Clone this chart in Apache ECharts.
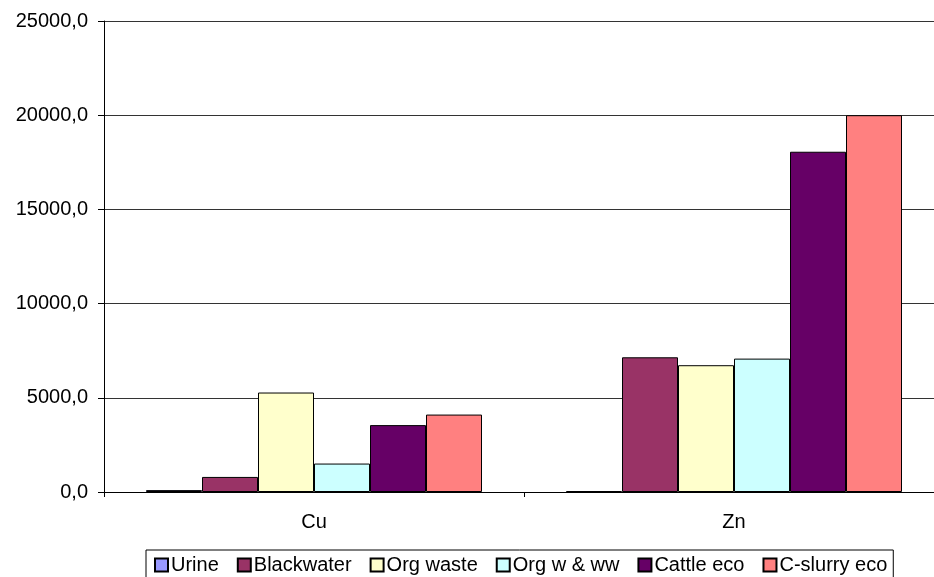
<!DOCTYPE html>
<html>
<head>
<meta charset="utf-8">
<script src="https://cdn.jsdelivr.net/npm/echarts@6/dist/echarts.min.js"></script>
<style>
  html, body { margin: 0; padding: 0; background: #fff; overflow: hidden; }
  /* the plot area runs a little past the right edge of the window */
  #chart { width: 944px; height: 577px; }
</style>
</head>
<body>
<div id="chart"></div>
<script>
// Metal content by source
const categories = ['Cu', 'Zn'];
const seriesNames = ['Urine', 'Blackwater', 'Org waste', 'Org w & ww', 'Cattle eco', 'C-slurry eco'];
const urine = [100, 50];
const blackwater = [800, 7150];
const orgWaste = [5280, 6730];
const orgWW = [1510, 7080];
const cattleEco = [3550, 18060];
const cSlurryEco = [4110, 20000];
const seriesColors = ['#9999FF', '#993366', '#FFFFCC', '#CCFFFF', '#660066', '#FF8080'];
const yTicks = { min: 0, max: 25000, interval: 5000 };

const values = [urine, blackwater, orgWaste, orgWW, cattleEco, cSlurryEco];
const font = 'Liberation Sans, Arial, sans-serif';

const chart = echarts.init(document.getElementById('chart'), null, { renderer: 'canvas' });
chart.setOption({
  animation: false,
  backgroundColor: '#fff',
  grid: { left: 104, right: 0, top: 21, bottom: 85, containLabel: false },
  legend: {
    data: seriesNames,
    left: 146,
    top: 550,
    icon: 'rect',
    itemWidth: 13,
    itemHeight: 13,
    itemGap: 18,
    padding: [5, 6, 12, 8],
    borderColor: '#000',
    borderWidth: 1,
    textStyle: { fontFamily: font, fontSize: 20, color: '#000', padding: [0, 0, 0, -2] }
  },
  xAxis: {
    type: 'category',
    data: categories,
    axisLine: { lineStyle: { color: '#000', width: 1 } },
    axisTick: { show: true, length: 5, lineStyle: { color: '#000' } },
    axisLabel: { fontFamily: font, fontSize: 20, color: '#000', margin: 20 }
  },
  yAxis: {
    type: 'value',
    min: yTicks.min,
    max: yTicks.max,
    interval: yTicks.interval,
    axisLine: { show: true, lineStyle: { color: '#000', width: 1 } },
    axisTick: { show: true, length: 6, lineStyle: { color: '#000' } },
    splitLine: { show: true, lineStyle: { color: '#333', width: 1 } },
    axisLabel: {
      fontFamily: font, fontSize: 20, color: '#000', margin: 16,
      formatter: v => v.toFixed(1).replace('.', ',')
    }
  },
  series: seriesNames.map((name, i) => ({
    name,
    type: 'bar',
    data: values[i],
    barGap: '0%',
    barCategoryGap: '20%',
    itemStyle: { color: seriesColors[i], borderColor: '#000', borderWidth: 1 }
  }))
});
</script>
</body>
</html>
